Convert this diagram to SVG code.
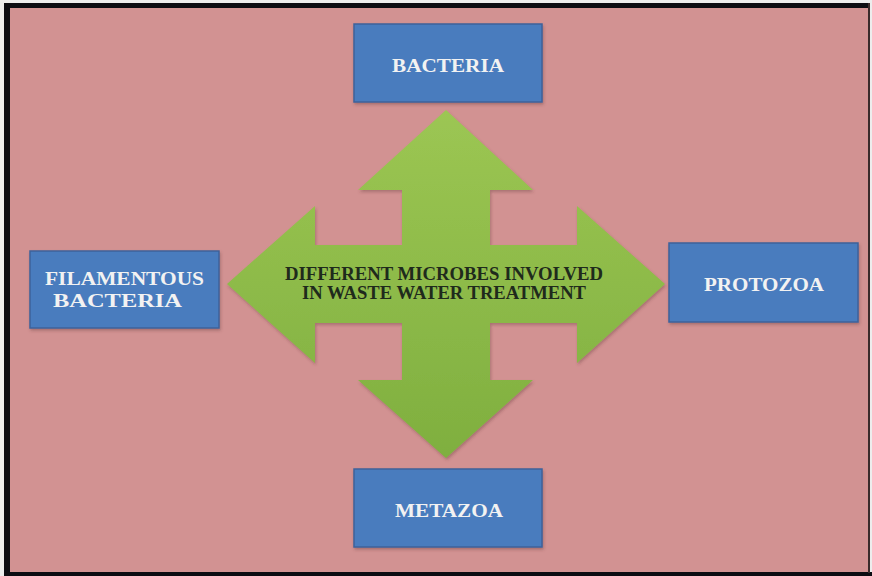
<svg xmlns="http://www.w3.org/2000/svg" width="872" height="576" viewBox="0 0 872 576">
  <defs>
    <linearGradient id="greenFill" x1="0" y1="0" x2="0" y2="1">
      <stop offset="0" stop-color="#9CC653"/>
      <stop offset="1" stop-color="#7FAF3F"/>
    </linearGradient>
    <filter id="soft" x="-10%" y="-10%" width="120%" height="120%">
      <feDropShadow dx="1" dy="2" stdDeviation="1.5" flood-color="#5a3030" flood-opacity="0.35"/>
    </filter>
  </defs>
  <style>
    .box { fill: #4A7BBE; stroke: #3D629A; stroke-width: 1.5; filter: url(#soft); }
    .label { font-family: "Liberation Serif", "Times New Roman", serif; font-weight: bold; font-size: 19px; fill: #F2F2F2; text-anchor: middle; }
    .title { font-family: "Liberation Serif", "Times New Roman", serif; font-weight: bold; font-size: 18.5px; fill: #1F2A1C; text-anchor: middle; }
  </style>

  <!-- page background and frame -->
  <rect x="0" y="0" width="872" height="576" fill="#EDEDED"/>
  <rect x="10" y="8" width="859" height="564" fill="#D29292"/>
  <rect x="4" y="3" width="866" height="5" fill="#0C0C12"/>
  <rect x="4" y="3" width="6" height="573" fill="#0C0C12"/>
  <rect x="4" y="572" width="868" height="4" fill="#0C0C12"/>
  <rect x="868" y="3" width="2" height="570" fill="#3a2a2a"/>

  <!-- central four-way arrow -->
  <g id="center">
    <path d="M446,110 L533,190 L490,190 L490,245 L577,245 L577,206 L665,284 L577,363 L577,323 L490,323 L490,380 L533,380 L446,458 L358,380 L402,380 L402,323 L315,323 L315,363 L227,284 L315,206 L315,245 L402,245 L402,190 L358,190 Z" fill="url(#greenFill)" filter="url(#soft)"/>
    <text class="title" x="444" y="280" textLength="318" lengthAdjust="spacingAndGlyphs">DIFFERENT MICROBES INVOLVED</text>
    <text class="title" x="444" y="299" textLength="284" lengthAdjust="spacingAndGlyphs">IN WASTE WATER TREATMENT</text>
  </g>

  <g id="bacteria">
    <rect class="box" x="354" y="24" width="188" height="78"/>
    <text class="label" x="448" y="72" textLength="112" lengthAdjust="spacingAndGlyphs">BACTERIA</text>
  </g>

  <g id="filamentous-bacteria">
    <rect class="box" x="30" y="251" width="189" height="77"/>
    <text class="label" x="124.5" y="285" textLength="159" lengthAdjust="spacingAndGlyphs">FILAMENTOUS</text>
    <text class="label" x="117.5" y="307" textLength="129" lengthAdjust="spacingAndGlyphs">BACTERIA</text>
  </g>

  <g id="protozoa">
    <rect class="box" x="669" y="243" width="189" height="79"/>
    <text class="label" x="764" y="291" textLength="120" lengthAdjust="spacingAndGlyphs">PROTOZOA</text>
  </g>

  <g id="metazoa">
    <rect class="box" x="354" y="469" width="188" height="78"/>
    <text class="label" x="449" y="517" textLength="108" lengthAdjust="spacingAndGlyphs">METAZOA</text>
  </g>

  <g id="connectors"/>
</svg>
